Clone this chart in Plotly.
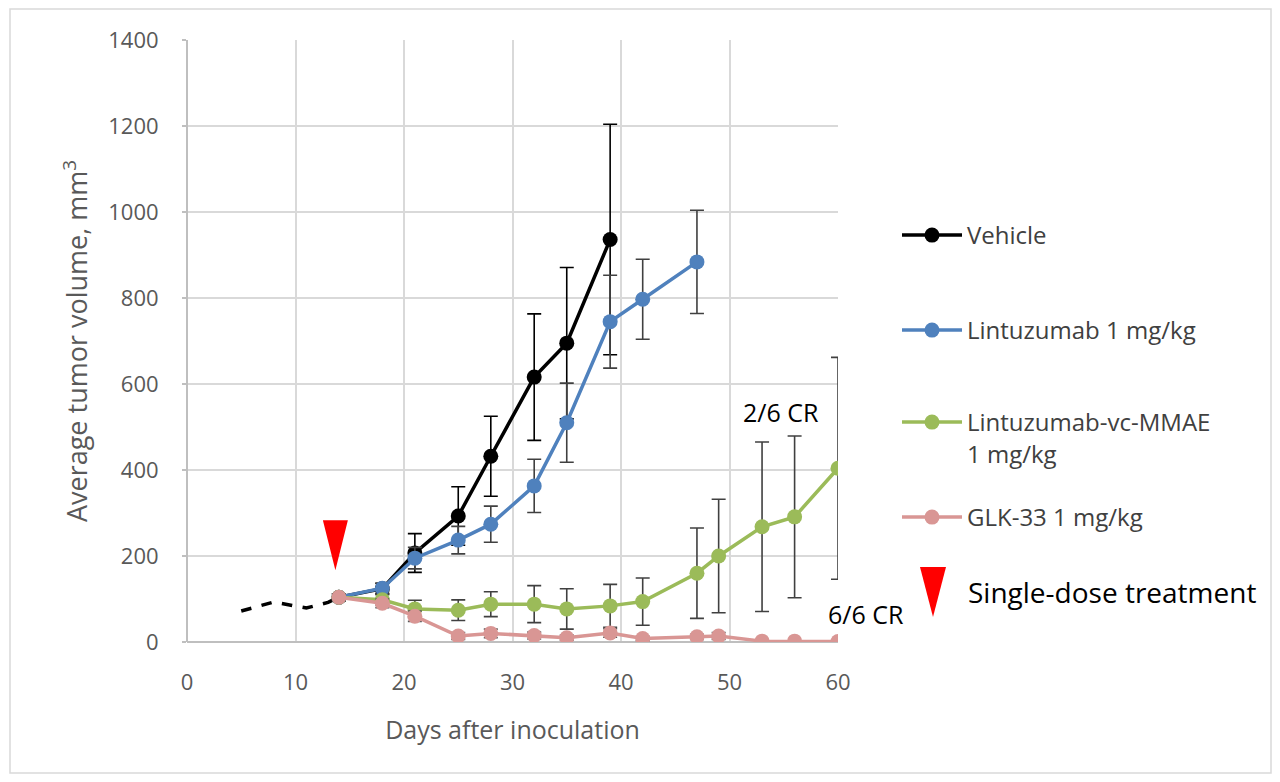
import plotly.graph_objects as go

# ---- data ----
pre_days = [5, 8, 11, 13, 14]
pre_mean = [72, 93, 79, 92, 104]

vehicle_days = [14, 18, 21, 25, 28, 32, 35, 39]
vehicle_mean = [104, 124, 207, 293, 432, 616, 695, 936]
vehicle_err = [8, 12, 45, 68, 93, 147, 176, 268]

linz_days = [14, 18, 21, 25, 28, 32, 35, 39, 42, 47]
linz_mean = [104, 125, 195, 237, 274, 363, 510, 745, 797, 884]
linz_err = [8, 12, 25, 32, 42, 62, 92, 108, 93, 120]

adc_days = [14, 18, 21, 25, 28, 32, 35, 39, 42, 47, 49, 53, 56, 60]
adc_mean = [104, 98, 77, 74, 88, 88, 77, 84, 94, 160, 200, 268, 291, 404]
adc_err = [8, 12, 20, 24, 29, 43, 47, 50, 55, 105, 132, 197, 188, 258]

glk_days = [14, 18, 21, 25, 28, 32, 35, 39, 42, 47, 49, 53, 56, 60]
glk_mean = [104, 90, 60, 14, 20, 15, 10, 21, 8, 12, 14, 2, 2, 1]
glk_err = [8, 10, 12, 8, 10, 8, 6, 10, 5, 6, 8, 1, 1, 1]

series_names = ["Vehicle", "Lintuzumab 1 mg/kg", "Lintuzumab-vc-MMAE<br>1 mg/kg", "GLK-33 1 mg/kg"]
series_colors = ["#000000", "#4F81BD", "#9BBB59", "#D99694"]

x_ticks = [0, 10, 20, 30, 40, 50, 60]
y_ticks = [0, 200, 400, 600, 800, 1000, 1200, 1400]

treatment_day = 14
cr_labels = ["2/6 CR", "6/6 CR"]

FONT = "Open Sans"
OFF = 8  # page body margin
W, H = 1280 - 2 * OFF, 782 - 2 * OFF
# plot area in page pixels: x 187..838, y 40..642
ML, MT = 187 - OFF, 40 - OFF
MR = W - (838 - OFF)
MB = H - (642 - OFF)
PW, PH = W - ML - MR, H - MT - MB


def px_x(p):
    return (p - OFF - ML) / PW


def px_y(p):
    return (H - MB - (p - OFF)) / PH


fig = go.Figure()

# pre-treatment dashed segment
fig.add_trace(go.Scatter(x=pre_days, y=pre_mean, mode="lines",
                         line=dict(color="#000000", width=3.5, dash="dash"),
                         showlegend=False, hoverinfo="skip"))

all_series = [
    (vehicle_days, vehicle_mean, vehicle_err),
    (linz_days, linz_mean, linz_err),
    (adc_days, adc_mean, adc_err),
    (glk_days, glk_mean, glk_err),
]
legend_ids = ["legend", "legend2", "legend3", "legend4"]
err_colors = ["#000000", "#404040", "#404040", "#595959"]

for (d, m, e), name, col, lg, ec in zip(all_series, series_names, series_colors, legend_ids, err_colors):
    fig.add_trace(go.Scatter(
        x=d, y=m, name=name, mode="lines+markers",
        line=dict(color=col, width=3.5),
        marker=dict(color=col, size=15),
        error_y=dict(type="data", array=e, visible=True, color=ec, thickness=1.6, width=7),
        legend=lg,
    ))

# treatment marker (triangle above day 14)
fig.add_shape(type="path", xref="x", yref="y", xsizemode="pixel", ysizemode="pixel",
              xanchor=treatment_day, yanchor=vehicle_mean[0],
              path="M -16,77 L 9,77 L -3.5,27 Z", fillcolor="#FF0000", line=dict(width=0))

# legend triangle
fig.add_shape(type="path", xref="paper", yref="paper", xsizemode="pixel", ysizemode="pixel",
              xanchor=px_x(933), yanchor=px_y(592),
              path="M -13,25 L 13,25 L 0,-25 Z", fillcolor="#FF0000", line=dict(width=0))

# outer border
fig.add_shape(type="rect", xref="paper", yref="paper",
              x0=px_x(10), x1=px_x(1271), y0=px_y(773), y1=px_y(9),
              line=dict(color="#D9D9D9", width=1.5), fillcolor="rgba(0,0,0,0)", layer="below")

fig.add_annotation(x=54.7, y=535, xref="x", yref="y", text=cr_labels[0], showarrow=False,
                   xanchor="center", yanchor="middle",
                   font=dict(family=FONT, size=25, color="#000000"))
fig.add_annotation(x=px_x(866), y=px_y(614), xref="paper", yref="paper", text=cr_labels[1],
                   xanchor="center", yanchor="middle",
                   showarrow=False, font=dict(family=FONT, size=25, color="#000000"))
fig.add_annotation(x=px_x(966), y=px_y(592), xref="paper", yref="paper", xanchor="left",
                   yanchor="middle",
                   text="Single-dose treatment", showarrow=False,
                   font=dict(family=FONT, size=28, color="#000000"))

legend_y = [235, 330, 422, 517]
leg_font = dict(family=FONT, size=24, color="#404040")
layout_legends = {}
for lg, yy in zip(legend_ids, legend_y):
    layout_legends[lg] = dict(x=px_x(897), y=px_y(yy - 22), xanchor="left", yanchor="top",
                              font=leg_font, bgcolor="rgba(0,0,0,0)", valign="top",
                              itemwidth=60)

fig.update_layout(
    width=W, height=H,
    margin=dict(l=ML, r=MR, t=MT, b=MB),
    paper_bgcolor="white", plot_bgcolor="white",
    font=dict(family=FONT, color="#595959"),
    xaxis=dict(range=[0, 60], tickvals=x_ticks, showgrid=True, gridcolor="#D9D9D9", gridwidth=1.5,
               zeroline=True, zerolinecolor="#BFBFBF", zerolinewidth=2, showline=False,
               ticks="", ticklabelstandoff=25, tickfont=dict(family=FONT, size=22, color="#595959"),
               title=dict(text="Days after inoculation", font=dict(family=FONT, size=25, color="#595959"),
                          standoff=26)),
    yaxis=dict(range=[0, 1400], tickvals=y_ticks, showgrid=True, gridcolor="#D9D9D9", gridwidth=1.5,
               zeroline=True, zerolinecolor="#BFBFBF", zerolinewidth=2, showline=False,
               ticks="outside", ticklen=4, tickcolor="#BFBFBF", tickwidth=1.5,
               ticklabelstandoff=19,
               tickfont=dict(family=FONT, size=22, color="#595959"),
               title=dict(text="Average tumor volume, mm<sup>3</sup>",
                          font=dict(family=FONT, size=27, color="#595959"), standoff=12)),
    **layout_legends,
)

fig.write_html("out.html")
